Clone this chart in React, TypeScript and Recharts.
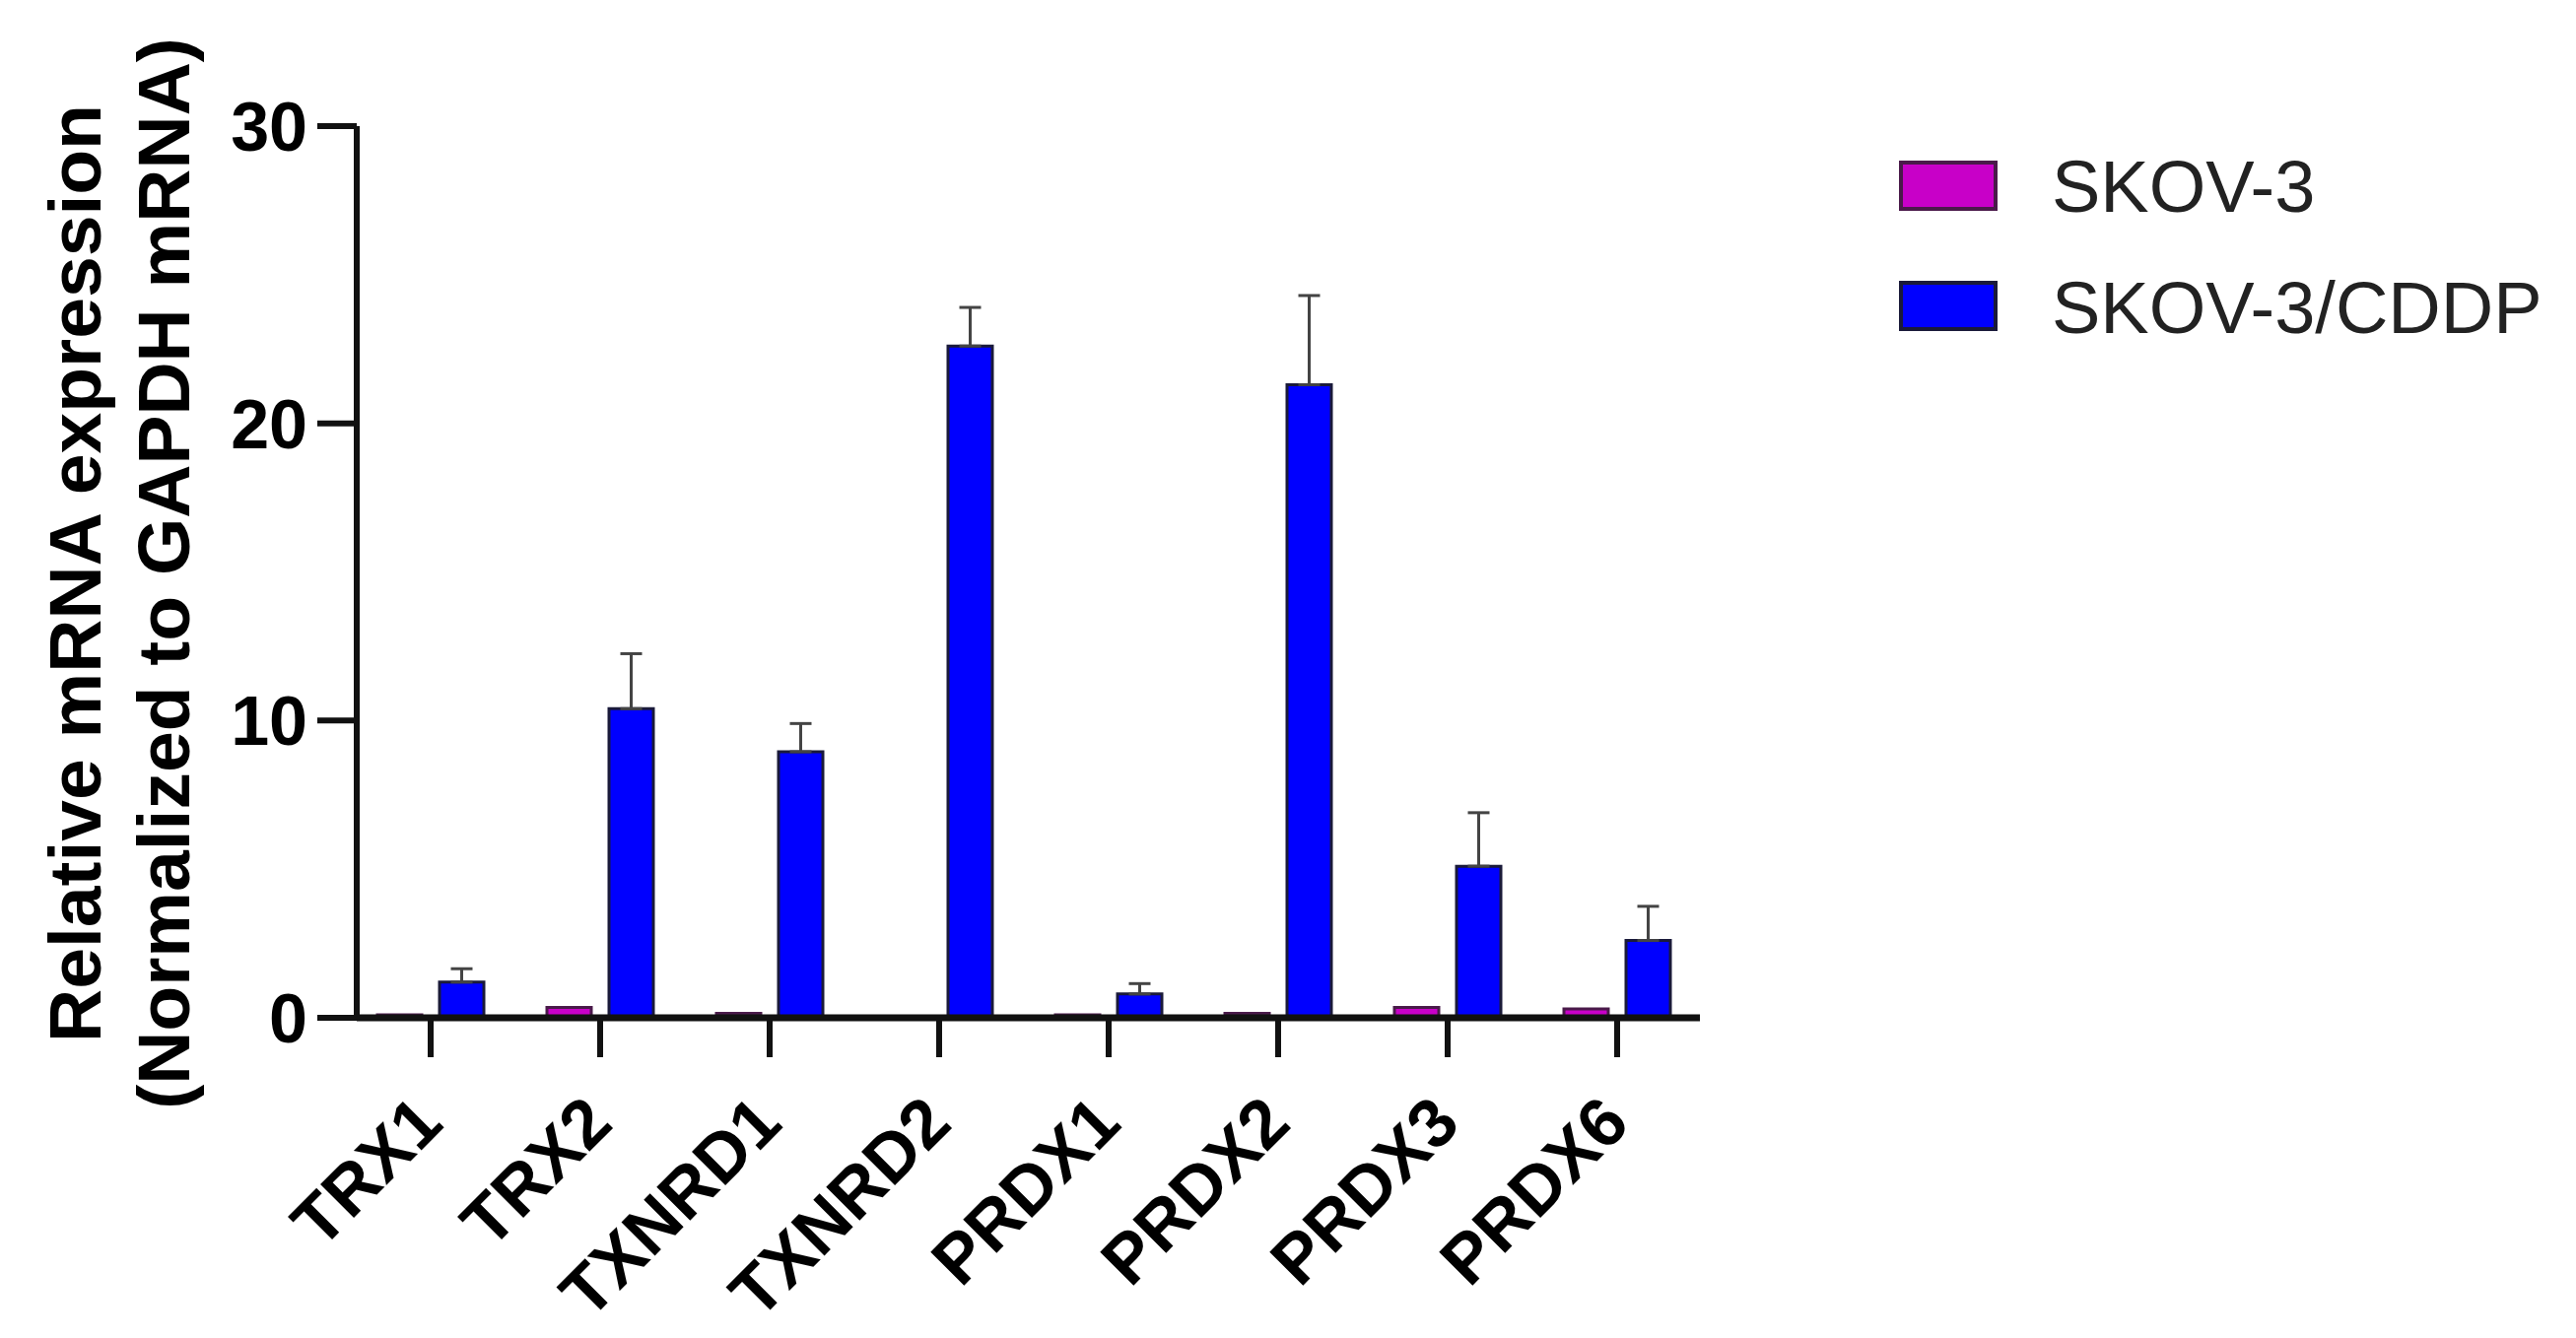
import React from 'react';
import { BarChart, Bar, XAxis, YAxis, ErrorBar, Legend } from 'recharts';

const categories = ['TRX1', 'TRX2', 'TXNRD1', 'TXNRD2', 'PRDX1', 'PRDX2', 'PRDX3', 'PRDX6'];
const skov3Values = [0.1, 0.35, 0.15, 0.05, 0.1, 0.15, 0.35, 0.3];
const cddpValues = [1.2, 10.4, 8.95, 22.6, 0.8, 21.3, 5.1, 2.6];
const cddpErrors = [0.45, 1.85, 0.95, 1.3, 0.35, 3.0, 1.8, 1.15];
const yTicks = [0, 10, 20, 30];
const seriesNames = ['SKOV-3', 'SKOV-3/CDDP'];

const FONT = '"Liberation Sans", Arial, Helvetica, sans-serif';
const SKOV_FILL = '#C800C8';
const SKOV_STROKE = '#4a1a4a';
const CDDP_FILL = '#0000FF';
const CDDP_STROKE = '#1a1a3a';
const AXIS = '#111111';

const data = categories.map((name, i) => ({
  name,
  skov3: skov3Values[i],
  cddp: cddpValues[i],
  cddpErr: [0, cddpErrors[i]],
}));

const XTick = (props: any) => {
  const { x, y, payload } = props;
  const ax = x + 15;
  const ay = y + 68;
  return (
    <text
      x={ax}
      y={ay}
      transform={`rotate(-45, ${ax}, ${ay})`}
      textAnchor="end"
      fontSize={70}
      fontWeight="bold"
      fontFamily={FONT}
      fill="#000"
    >
      {payload.value}
    </text>
  );
};

const YLabel = () => (
  <g>
    <text
      x={94}
      y={574}
      transform="rotate(-90, 94, 574)"
      textAnchor="middle"
      fontSize={75}
      fontWeight="bold"
      fontFamily={FONT}
      fill="#000"
    >
      Relative mRNA expression
    </text>
    <text
      x={184}
      y={574}
      transform="rotate(-90, 184, 574)"
      textAnchor="middle"
      fontSize={75}
      fontWeight="bold"
      fontFamily={FONT}
      fill="#000"
    >
      (Normalized to GAPDH mRNA)
    </text>
  </g>
);

const LegendContent = () => {
  const fills = [SKOV_FILL, CDDP_FILL];
  const strokes = [SKOV_STROKE, CDDP_STROKE];
  return (
    <svg width={720} height={280} style={{ overflow: 'visible' }}>
      {seriesNames.map((n, i) => (
        <g key={n}>
          <rect x={2} y={12 + i * 122} width={96} height={47} fill={fills[i]} stroke={strokes[i]} strokeWidth={4} />
          <text x={155} y={62 + i * 123} fontSize={74} fontFamily={FONT} fill="#222">
            {n}
          </text>
        </g>
      ))}
    </svg>
  );
};

export default function App() {
  return (
    <div style={{ width: 2606, height: 1350, background: '#fff' }}>
      <BarChart
        width={2606}
        height={1350}
        data={data}
        margin={{ top: 120, right: 889, bottom: 125, left: 0 }}
        barSize={45}
        barGap={18}
      >
        <XAxis
          dataKey="name"
          height={200}
          padding={{ left: -11, right: -2 }}
          interval={0}
          tick={<XTick />}
          tickSize={40}
          axisLine={{ stroke: AXIS, strokeWidth: 7 }}
          tickLine={{ stroke: AXIS, strokeWidth: 6 }}
        />
        <YAxis
          width={354}
          domain={[0, 30]}
          ticks={yTicks}
          interval={0}
          tickSize={40}
          tickMargin={10}
          axisLine={{ stroke: AXIS, strokeWidth: 6 }}
          tickLine={{ stroke: AXIS, strokeWidth: 6 }}
          tick={{ fontSize: 70, fontWeight: 'bold', fill: '#000', fontFamily: FONT }}
          label={{ content: <YLabel /> }}
        />
        <Legend
          layout="vertical"
          align="center"
          verticalAlign="middle"
          content={<LegendContent />}
          wrapperStyle={{ position: 'absolute', left: 1919, top: 145, width: 720, height: 280 }}
        />
        <Bar
          dataKey="skov3"
          name={seriesNames[0]}
          fill={SKOV_FILL}
          stroke={SKOV_STROKE}
          strokeWidth={3}
          isAnimationActive={false}
        />
        <Bar
          dataKey="cddp"
          name={seriesNames[1]}
          fill={CDDP_FILL}
          stroke={CDDP_STROKE}
          strokeWidth={3}
          isAnimationActive={false}
        >
          <ErrorBar dataKey="cddpErr" width={11} stroke="#444" strokeWidth={3} direction="y" isAnimationActive={false} />
        </Bar>
      </BarChart>
    </div>
  );
}
